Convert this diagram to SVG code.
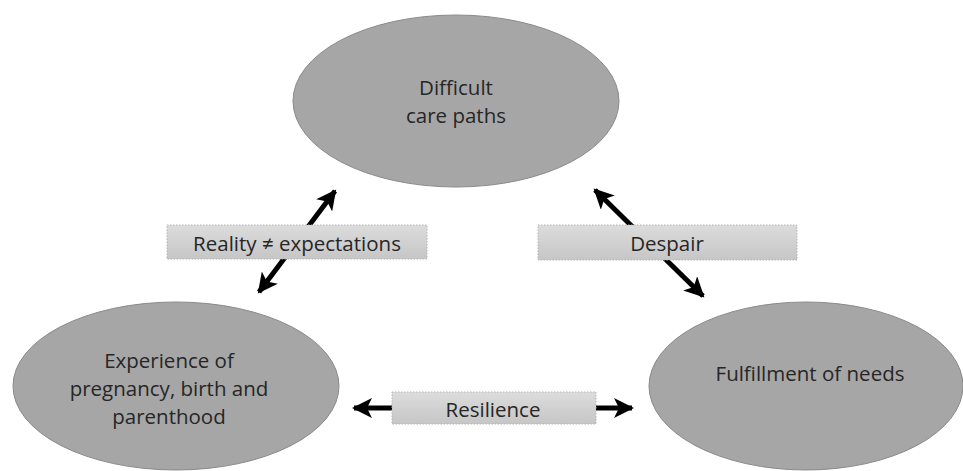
<svg xmlns="http://www.w3.org/2000/svg" width="963" height="471" viewBox="0 0 963 471">
<style>
.node ellipse{fill:#a6a6a6;stroke:#8a8a8a;stroke-width:1}
.t{font-family:"Open Sans","Liberation Sans",sans-serif;font-size:20.5px;fill:#262626;text-anchor:middle;dominant-baseline:central}
.lbl rect{fill:url(#g);stroke:#b5b5b5;stroke-width:1;stroke-dasharray:1.5 1.5}
.conn line{stroke:#000;stroke-width:5;marker-start:url(#a);marker-end:url(#a)}
</style>
<defs>
<linearGradient id="g" x1="0" y1="0" x2="0" y2="1">
<stop offset="0" stop-color="#dcdcdc"/>
<stop offset="1" stop-color="#c6c6c6"/>
</linearGradient>
<marker id="a" viewBox="0 0 10 10" refX="9" refY="5" markerWidth="21" markerHeight="20" markerUnits="userSpaceOnUse" orient="auto-start-reverse">
<path d="M0,0 L10,5 L0,10 L2.5,5 Z" fill="#000"/>
</marker>
</defs>
<rect width="963" height="471" fill="#fff"/>
<g id="connectors" class="conn">
<line x1="259" y1="292" x2="335" y2="191"/>
<line x1="595" y1="190" x2="703" y2="296"/>
<line x1="354" y1="408" x2="632" y2="408"/>
</g>
<g id="n-top" class="node">
<ellipse cx="456" cy="101" rx="163" ry="86"/>
<text class="t" x="456" y="87">Difficult</text>
<text class="t" x="456" y="115">care paths</text>
</g>
<g id="n-left" class="node">
<ellipse cx="176" cy="386" rx="163" ry="84"/>
<text class="t" x="169" y="360">Experience of</text>
<text class="t" x="169" y="388">pregnancy, birth and</text>
<text class="t" x="169" y="416">parenthood</text>
</g>
<g id="n-right" class="node">
<ellipse cx="806" cy="386" rx="157" ry="84"/>
<text class="t" x="810" y="373">Fulfillment of needs</text>
</g>
<g id="l-reality" class="lbl">
<rect x="167" y="225" width="260" height="34"/>
<text class="t" x="297" y="243">Reality ≠ expectations</text>
</g>
<g id="l-despair" class="lbl">
<rect x="538" y="225" width="259" height="35"/>
<text class="t" x="667" y="243">Despair</text>
</g>
<g id="l-resilience" class="lbl">
<rect x="392" y="392" width="204" height="32"/>
<text class="t" x="493" y="409">Resilience</text>
</g>
</svg>
